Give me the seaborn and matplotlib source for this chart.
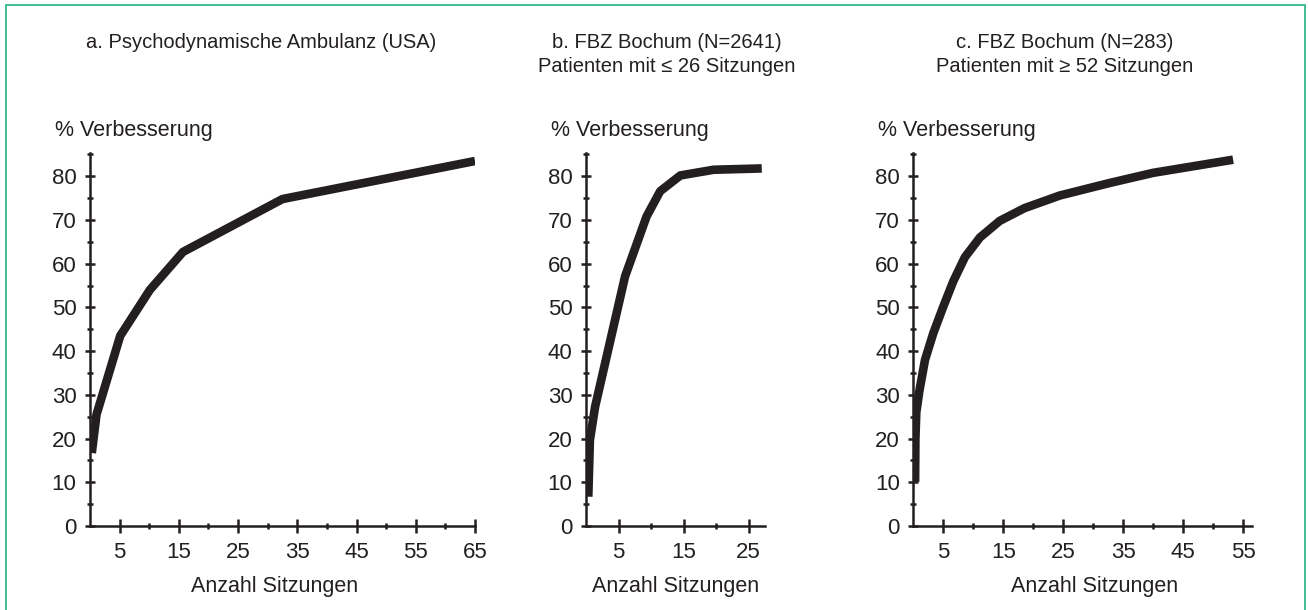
import matplotlib
matplotlib.use("Agg")
import matplotlib.pyplot as plt
from matplotlib.patches import Rectangle
from matplotlib.ticker import MultipleLocator, FixedLocator
import seaborn as sns
import pandas as pd

# ---- data ----
a_sessions = [0.3, 1.1, 5.1, 10.1, 15.7, 32.5, 65.0]
a_improve = [16.7, 25.5, 43.5, 54.0, 62.7, 74.8, 83.5]

b_sessions = [0.35, 0.6, 1.4, 6.0, 9.3, 11.4, 14.5, 19.6, 27.0]
b_improve = [6.7, 19.7, 27.3, 57.1, 70.8, 76.6, 80.2, 81.5, 81.8]

c_sessions = [0.3, 0.35, 0.5, 1.0, 1.95, 3.33, 5.0, 6.67, 8.6, 11.1, 14.4,
              18.5, 24.4, 32.8, 40.0, 53.3]
c_improve = [10.1, 20.0, 26.0, 30.8, 38.0, 44.1, 50.2, 56.0, 61.5, 66.0,
             69.8, 72.7, 75.6, 78.5, 80.8, 83.8]

titles = [
    ["a. Psychodynamische Ambulanz (USA)"],
    ["b. FBZ Bochum (N=2641)", "Patienten mit \u2264 26 Sitzungen"],
    ["c. FBZ Bochum (N=283)", "Patienten mit \u2265 52 Sitzungen"],
]
x_label = "Anzahl Sitzungen"
y_label = "% Verbesserung"
xlims = [65.0, 27.5, 56.4]
x_major = [[5, 15, 25, 35, 45, 55, 65], [5, 15, 25], [5, 15, 25, 35, 45, 55]]
x_minor = [[10, 20, 30, 40, 50, 60], [10, 20], [10, 20, 30, 40, 50]]

# ---- style ----
sns.set_style("ticks")
plt.rcParams["font.family"] = ["Liberation Sans", "DejaVu Sans"]
INK = "#231f20"

W, H = 1308, 610
fig = plt.figure(figsize=(W / 100, H / 100), dpi=100)
fig.patch.set_facecolor("white")


def rect(l, r, bot, top):
    return [l / W, 1 - bot / H, (r - l) / W, (bot - top) / H]


axes_px = [(90, 475), (586, 765), (913.3, 1251.7)]
title_cx = [261, 667, 1065]
xlabel_fx = [0.48, 0.5, 0.537]
data = [(a_sessions, a_improve), (b_sessions, b_improve), (c_sessions, c_improve)]

for i, ((l, r), (xs, ys)) in enumerate(zip(axes_px, data)):
    ax = fig.add_axes(rect(l, r, 526, 152.7))
    df = pd.DataFrame({"x": xs, "y": ys})
    sns.lineplot(data=df, x="x", y="y", ax=ax, estimator=None, sort=False,
                 color=INK, linewidth=6.2, solid_joinstyle="round",
                 solid_capstyle="butt")
    ax.set_xlim(0, xlims[i])
    ax.set_ylim(0, 85.4)
    sns.despine(ax=ax)
    for s in ("left", "bottom"):
        ax.spines[s].set_linewidth(1.8)
        ax.spines[s].set_color(INK)
    ax.yaxis.set_major_locator(MultipleLocator(10))
    ax.yaxis.set_minor_locator(FixedLocator([5, 15, 25, 35, 45, 55, 65, 75, 85]))
    ax.xaxis.set_major_locator(FixedLocator(x_major[i]))
    ax.xaxis.set_minor_locator(FixedLocator(x_minor[i]))
    ax.tick_params(axis="y", which="major", direction="inout", length=6.5,
                   width=1.8, color=INK, labelsize=16, labelcolor=INK, pad=6.5)
    ax.tick_params(axis="y", which="minor", direction="inout", length=5,
                   width=1.8, color=INK)
    ax.tick_params(axis="x", which="major", direction="inout", length=9.5,
                   width=1.8, color=INK, labelsize=16, labelcolor=INK, pad=7)
    ax.tick_params(axis="x", which="minor", direction="inout", length=5,
                   width=1.8, color=INK)
    ax.set_ylabel("")
    ax.set_xlabel(x_label, fontsize=15.5, color=INK)
    ax.xaxis.set_label_coords(xlabel_fx[i], -0.163)
    ax.xaxis.label.set_va("center")
    ax.annotate(y_label, xy=(0, 1), xycoords="axes fraction",
                xytext=(-35, 22), textcoords="offset pixels",
                ha="left", va="center", fontsize=15.5, color=INK)
    ax.set_facecolor("white")
    for j, line in enumerate(titles[i]):
        fig.text(title_cx[i] / W, 1 - (48 + 24 * j) / H, line,
                 ha="center", va="baseline", fontsize=14.5, color=INK)

fig.patches.append(Rectangle((6 / W, -0.05), (1305 - 6) / W, 1.05 - 5 / H,
                             transform=fig.transFigure, fill=False,
                             edgecolor="#33b98a", linewidth=1.3))

fig.savefig("out.png", dpi=100, facecolor="white")
